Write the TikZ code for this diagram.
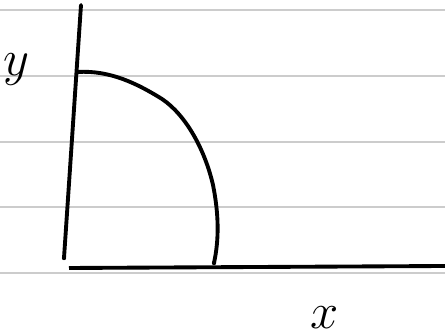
\documentclass[tikz,border=0pt]{standalone}
\usepackage{tikz}
\begin{document}
\begin{tikzpicture}[x=0.01cm,y=-0.01cm]
\useasboundingbox (0,0) rectangle (445,334);

% ruled paper
\foreach \ry in {10,76,142,207,273}
  \draw[gray!40,line width=0.6pt] (0,\ry) -- (445,\ry);

\coordinate (Ytop) at (81,5);
\coordinate (O) at (64,258);
\coordinate (Xleft) at (69,268);
\coordinate (Xright) at (445,266);
\coordinate (A) at (78,72);
\coordinate (B) at (214,263);

\draw[line width=1.1pt,line cap=round] (Ytop) -- (O);
\fill (O) circle (2.2);
\draw[line width=1.1pt] (Xleft) -- (Xright);

\draw[line width=1.1pt,line cap=round] (A) .. controls (110,70) and (138,84) .. (162,99)
  .. controls (186,115) and (205,150) .. (213,185)
  .. controls (219,215) and (219,240) .. (B);
\fill (B) circle (2.2);

\node[font=\Large] (ylab) at (16,70) {$y$};
\node[font=\Large] (xlab) at (325,318) {$x$};
\end{tikzpicture}
\end{document}
